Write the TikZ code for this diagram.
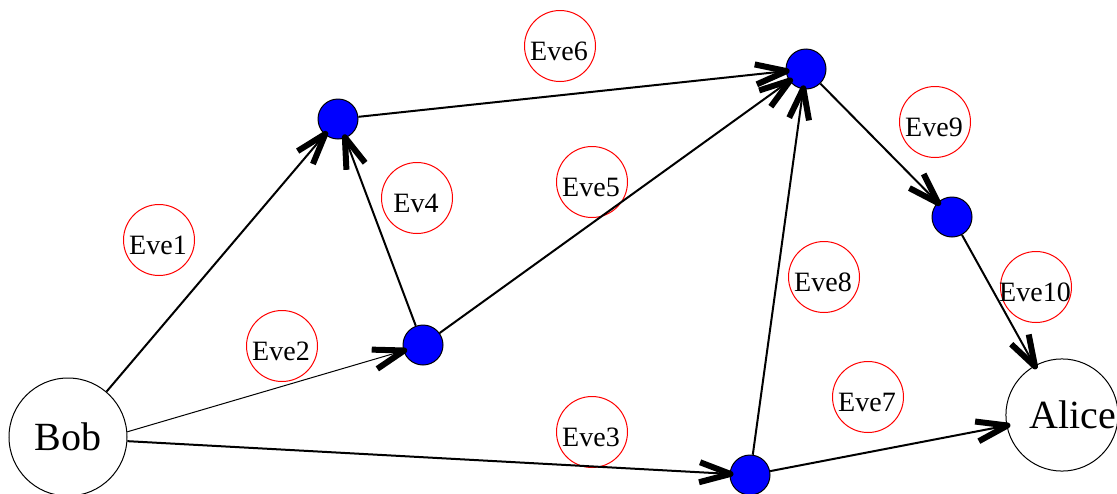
\documentclass[tikz,border=0pt]{standalone}
\usepackage{fontspec}
\setmainfont{Liberation Serif}
\usetikzlibrary{decorations.markings}
\begin{document}
\begin{tikzpicture}[x=1pt,y=-1pt,
  blue node/.style={circle,draw=black,line width=1pt,fill=blue,minimum size=40pt,inner sep=0pt},
  person/.style={circle,draw=black,line width=1pt,fill=white,minimum size=#1,inner sep=0pt},
  eve/.style={circle,draw=red,line width=1pt,minimum size=71pt,inner sep=0pt},
  evetxt/.style={font=\fontsize{28}{30}\selectfont,inner sep=0pt},
  barbed/.style={postaction={decorate},decoration={markings,
     mark=at position 1 with {\draw[line width=6pt,line cap=butt,line join=round] (-30pt,10pt) -- (1pt,0pt) -- (-30pt,-10pt);}}},
  link/.style={line width=2pt,barbed},
  thin link/.style={line width=1pt,barbed}
]
\useasboundingbox (0,0) rectangle (1117,493);
% Eve circles
\foreach \n/\x/\y/\t in {e1/159/240/Eve1,e2/282/346/Eve2,e3/592/432/Eve3,e4/417/198/Ev4,e5/592/182/Eve5,e6/560/46/Eve6,e7/868/397/Eve7,e8/824/277/Eve8,e9/935/122/Eve9,e10/1036/287/Eve10}{
  \node[eve] (\n) at (\x,\y) {};
  \node[evetxt] (\n t) at (\x-1,\y+5) {\t};
}
% main nodes
\node[person=118pt,font=\fontsize{40}{42}\selectfont] (bob) at (68,437) {\raisebox{-6pt}{Bob}};
\node[person=104pt,font=\fontsize{40}{42}\selectfont] (alice) at (1062,415) {\hspace*{22pt}Alice};
\node[blue node] (n1) at (338,119) {};
\node[blue node] (n2) at (423,345) {};
\node[blue node] (n3) at (806,69) {};
\node[blue node] (n4) at (952,217) {};
\node[blue node] (n5) at (750,475) {};
% edges
\draw[link] (bob) -- (n1);
\draw[thin link] (bob.5) -- (n2);
\draw[link] (bob.-4) -- (n5);
\draw[link] (n2) -- (n1);
\draw[link] (n2) -- (n3);
\draw[link] (n1) -- (n3);
\draw[link] (n5) -- (n3);
\draw[link] (n5) -- (alice);
\draw[link] (n3) -- (n4);
\draw[link] (n4) -- (alice);
\end{tikzpicture}
\end{document}
